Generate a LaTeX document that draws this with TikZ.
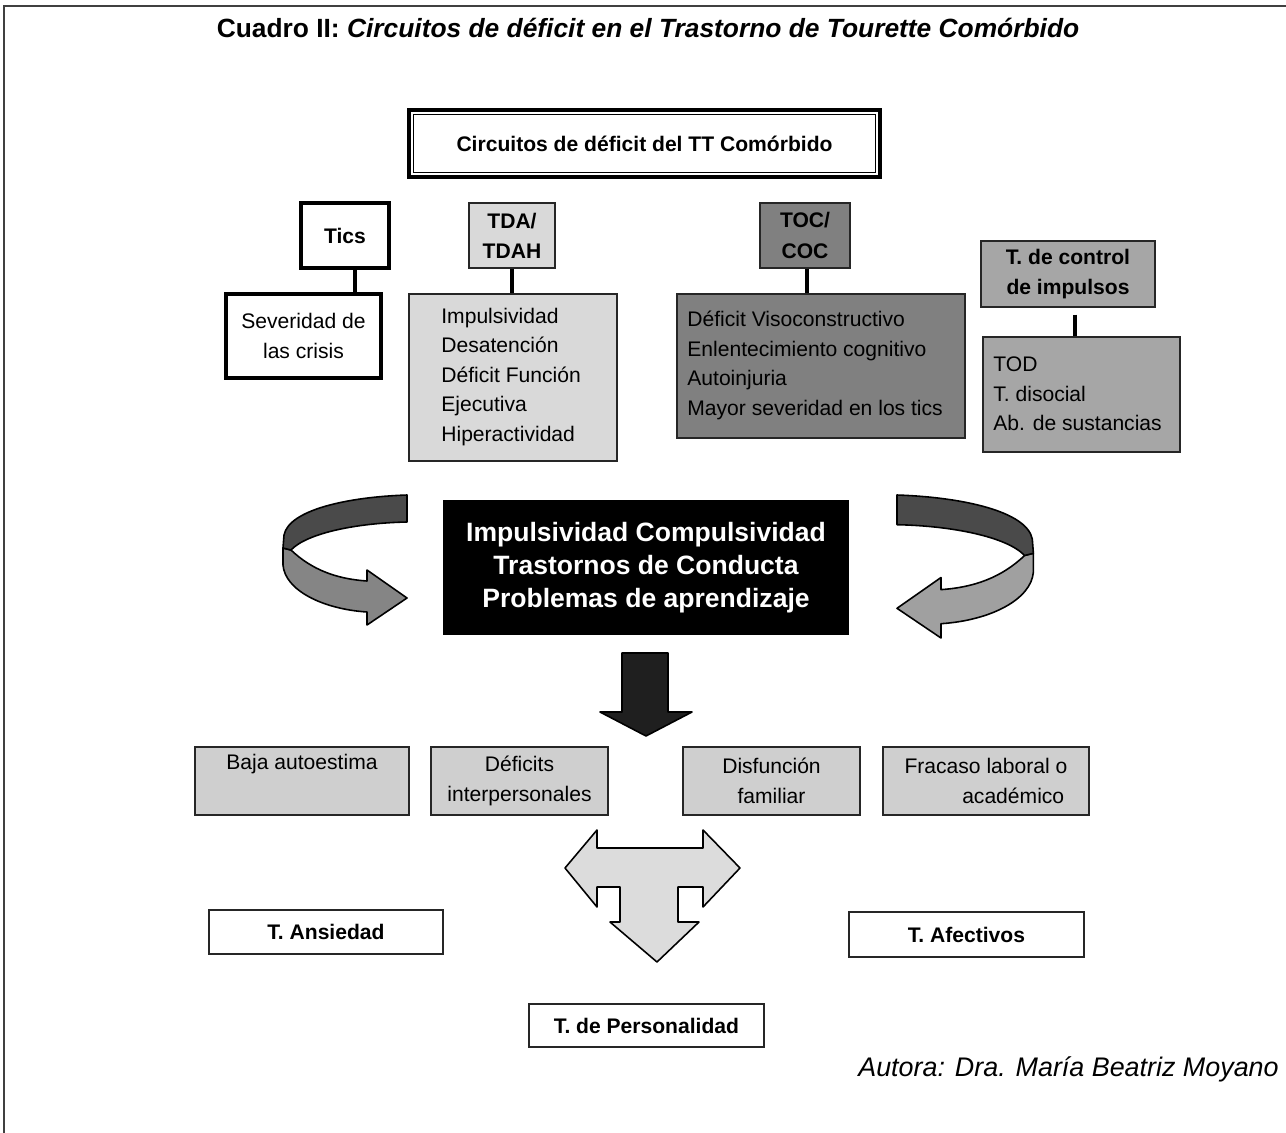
\documentclass[tikz,border=0pt]{standalone}
\usepackage{fontspec}
\setmainfont{Liberation Sans}
\usetikzlibrary{calc}
\definecolor{gA}{HTML}{D9D9D9}
\definecolor{gB}{HTML}{A6A6A6}
\definecolor{gC}{HTML}{808080}
\definecolor{gD}{HTML}{CFCFCF}
\definecolor{rDark}{HTML}{4A4A4A}
\definecolor{rLightL}{HTML}{858585}
\definecolor{rLightR}{HTML}{A0A0A0}
\definecolor{tgray}{HTML}{DCDCDC}
\begin{document}
\begin{tikzpicture}[x=0.02cm,y=-0.02cm,
  bx/.style 2 args={rectangle, inner sep=0pt, minimum width=#1*0.02cm, minimum height=#2*0.02cm, align=center},
  thinbox/.style={draw=black!85, line width=0.8pt},
  thickbox/.style={draw=black, line width=2.7pt},
  conn/.style={draw=black, line width=2.2pt},
  body/.style={font=\fontsize{12}{16.8}\selectfont},
  bbody/.style={font=\fontsize{12}{17.2}\selectfont\bfseries},
  lst/.style={anchor=west, align=left, inner sep=0pt, font=\fontsize{12}{16.8}\selectfont},
  ribbon/.style={draw=black, line width=0.9pt, line join=round},
  blk/.style={draw=black, line width=0.9pt, line join=round}]
\useasboundingbox (0,0) rectangle (1286,1133);
% frame
\draw[line width=1.1pt, black!75] (4,1133) -- (4,6) -- (1286,6);
% title
\node[font=\fontsize{15}{18}\selectfont\bfseries] (title) at (648,28)
  {Cuadro II: \textit{Circuitos de déficit en el Trastorno de Tourette Comórbido}};
% header
\node[bx={471}{67}, draw=black, line width=1.8pt, bbody] (hdr) at (644.5,143.5)
  {Circuitos de déficit del TT Comórbido};
\draw[line width=1pt] ($(hdr.north west)+(6,6)$) rectangle ($(hdr.south east)+(-6,-6)$);
% Tics
\node[bx={88}{65}, thickbox, fill=white, bbody] (tics) at (345,235.5) {Tics};
\node[bx={155}{84}, thickbox, fill=white, body] (sev) at (303.5,336) {Severidad de\\las crisis};
% TDA
\node[bx={86}{65}, thinbox, fill=gA, bbody] (tda) at (512,235.5) {TDA/\\TDAH};
\node[bx={208}{167}, thinbox, fill=gA] (imp) at (513,377.5) {};
\node[lst] (impT) at (441,377) {Impulsividad\\Desatención\\Déficit Función\\Ejecutiva\\Hiperactividad};
% TOC
\node[bx={90}{65}, thinbox, fill=gC, bbody] (toc) at (805,235.5) {TOC/\\COC};
\node[bx={288}{144}, thinbox, fill=gC] (vis) at (821,366) {};
\node[lst] (visT) at (687,365.5) {Déficit Visoconstructivo\\Enlentecimiento cognitivo\\Autoinjuria\\Mayor severidad en los tics};
% control de impulsos
\node[bx={174}{66}, thinbox, fill=gB, bbody] (ctl) at (1068,274) {T. de control\\de impulsos};
\node[bx={197}{115}, thinbox, fill=gB] (tod) at (1081.5,394.5) {};
\node[lst] (todT) at (993,394) {TOD\\T. disocial\\Ab. de sustancias};
% connectors
\draw[conn] ([shift={(10,0)}]tics.south) -- ([shift={(10,0)}]tics.south |- sev.north);
\draw[conn] (tda.south) -- (tda.south |- imp.north);
\draw[conn] ([shift={(2,0)}]toc.south) -- ([shift={(2,0)}]toc.south |- vis.north);
\draw[conn] ([shift={(7,7)}]ctl.south) -- ([shift={(7,0)}]ctl.south |- tod.north);
% central black box
\node[bx={406}{135}, fill=black, text=white, font=\fontsize{15.1}{18.7}\selectfont\bfseries] (core) at (646,567.5)
  {Impulsividad Compulsividad\\Trastornos de Conducta\\Problemas de aprendizaje};
% left curved arrow
\begin{scope}[shift={(407,495)}]
  \fill[rLightL, ribbon] (-116,55) .. controls (-95,75) and (-70,84) .. (-40,86) -- (-40,75) -- (0,103) -- (-40,130) -- (-40,117)
     .. controls (-85,114) and (-122,95) .. (-124,70) -- (-124,53) -- cycle;
  \fill[rDark, ribbon] (0,0) .. controls (-60,2) and (-118,15) .. (-123,40) -- (-124,53) -- (-116,55)
     .. controls (-100,38) and (-50,28) .. (0,27) -- cycle;
\end{scope}
% right curved arrow
\begin{scope}[shift={(897,495)}, xscale=-1.1, yscale=1.1]
  \fill[rLightR, ribbon] (-116,55) .. controls (-95,75) and (-70,84) .. (-40,86) -- (-40,75) -- (0,103) -- (-40,130) -- (-40,117)
     .. controls (-85,114) and (-122,95) .. (-124,70) -- (-124,53) -- cycle;
  \fill[rDark, ribbon] (0,0) .. controls (-60,2) and (-118,15) .. (-123,40) -- (-124,53) -- (-116,55)
     .. controls (-100,38) and (-50,28) .. (0,27) -- cycle;
\end{scope}
% down arrow
\fill[black!88, blk] (622,653) -- (668,653) -- (668,712) -- (692,712) -- (646,736) -- (600,712) -- (622,712) -- cycle;
% bottom grey boxes
\node[bx={214}{68}, thinbox, fill=gD, body] (baja) at (302,781) {Baja autoestima\\\strut};
\node[bx={177}{68}, thinbox, fill=gD, body] (defi) at (519.5,781) {Déficits\\interpersonales};
\node[bx={177}{68}, thinbox, fill=gD, body] (disf) at (771.5,781) {Disfunción\\familiar};
\node[bx={206}{68}, thinbox, fill=gD, body] (frac) at (986,781) {Fracaso laboral o\\\hspace*{31pt}académico};
% T arrow
\fill[tgray, blk] (565,868) -- (597,830) -- (597,848) -- (703,848) -- (703,830) -- (740,868) -- (703,907) -- (703,887)
  -- (678,887) -- (678,922) -- (699,922) -- (657,962) -- (610,922) -- (620,922) -- (620,887) -- (597,887) -- (597,907) -- cycle;
% bottom white boxes
\node[bx={234}{44}, thinbox, fill=white, bbody] (ans) at (326,932) {T. Ansiedad};
\node[bx={235}{45}, thinbox, fill=white, bbody] (afe) at (966.5,934.5) {T. Afectivos};
\node[bx={235}{43}, thinbox, fill=white, bbody] (per) at (646.5,1025.5) {T. de Personalidad};
% author
\node[anchor=east, inner sep=0pt, font=\fontsize{15.3}{18}\selectfont\itshape] (aut) at (1279,1069)
  {Autora: Dra. María Beatriz Moyano};
\end{tikzpicture}
\end{document}
